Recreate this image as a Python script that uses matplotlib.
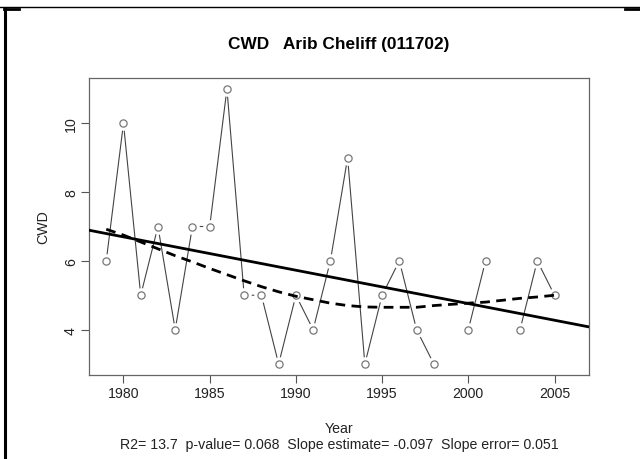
import numpy as np
import matplotlib
matplotlib.use("Agg")
import matplotlib.pyplot as plt
from matplotlib.lines import Line2D

plt.rcParams['font.family'] = ['Liberation Sans', 'DejaVu Sans']

# Annual CWD series (NaN = missing year)
years = np.arange(1979, 2006)
cwd = [6, 10, 5, 7, 4, 7, 7, 11, 5, 5, 3, 5, 4, 6, 9, 3, 5, 6, 4, 3,
       np.nan, 4, 6, np.nan, 4, 6, 5]
# Smoothed curve evaluated at observed years
smooth_years = [1979, 1980, 1981, 1982, 1983, 1984, 1985, 1986, 1987, 1988, 1989,
                1990, 1991, 1992, 1993, 1994, 1995, 1996, 1997, 1998, 2000, 2001,
                2003, 2004, 2005]
smooth_vals = [6.92, 6.75, 6.55, 6.35, 6.15, 5.97, 5.78, 5.6, 5.42, 5.25, 5.1,
               4.97, 4.87, 4.77, 4.7, 4.66, 4.65, 4.65, 4.65, 4.7, 4.77, 4.8,
               4.91, 4.95, 5.0]
slope = -0.097
r2, pval, slope_err = 13.7, 0.068, 0.051
station = "Arib Cheliff (011702)"

x_ticks = [1980, 1985, 1990, 1995, 2000, 2005]
y_ticks = [4, 6, 8, 10]

cwd = np.array(cwd, dtype=float)
ok = ~np.isnan(cwd)
# trend line through the mean of observed data
intercept = cwd[ok].mean() - slope * years[ok].mean()

W, H = 640, 460
fig = plt.figure(figsize=(6.4, 4.6), dpi=100)
ax = fig.add_axes([89 / W, 1 - 376 / H, 500 / W, 297 / H])

ax.plot(years, cwd, color='#444444', lw=0.8, zorder=1)
# white halo so the connecting lines stop short of the points
ax.plot(years[ok], cwd[ok], 'o', ms=10.5, mfc='white', mec='none', zorder=2)
ax.plot(years[ok], cwd[ok], 'o', ms=5.2, mfc='white', mec='#777777', mew=0.9, zorder=3)

xl = np.array([1978, 2007])
ax.plot(xl, intercept + slope * xl, color='black', lw=2, zorder=4)
ax.plot(smooth_years, smooth_vals, color='black', lw=2, ls=(0, (3.5, 2.3)), zorder=4)

fs = 10.2
ax.set_xlim(1978, 2007)
ax.set_ylim(2.68, 11.32)
ax.set_xticks(x_ticks)
ax.set_yticks(y_ticks)
ax.set_yticklabels([str(v) for v in y_ticks], rotation=90, va='center')
ax.tick_params(direction='out', length=5.5, width=0.8, colors='#555555',
               labelcolor='#222222', labelsize=fs, pad=2.5)
for s in ax.spines.values():
    s.set_color('#666666')
    s.set_linewidth(0.9)

cx = (89 + 589) / 2 / W
fig.text(cx, 1 - 45 / H, 'CWD   ' + station, fontsize=12.4, fontweight='bold',
         ha='center', va='center')
fig.text(43 / W, 1 - 227.5 / H, 'CWD', fontsize=fs, color='#222222', rotation=90,
         ha='center', va='center')
fig.text(cx, 1 - 429 / H, 'Year', fontsize=fs, color='#222222', ha='center', va='center')
fig.text(cx, 1 - 445 / H,
         'R2= %.1f  p-value= %.3f  Slope estimate= %.3f  Slope error= %.3f'
         % (r2, pval, slope, slope_err),
         fontsize=fs, color='#222222', ha='center', va='center')

# cell border around the figure
def px_line(x, y, lw):
    fig.add_artist(Line2D(np.array(x) / W, 1 - np.array(y) / H, color='black',
                          lw=lw, transform=fig.transFigure))
px_line([0, 640], [8, 8], 1.0)
px_line([5, 5], [9, 460], 2.2)
px_line([4, 19], [9.5, 9.5], 2.0)
px_line([625, 640], [9.5, 9.5], 2.0)

fig.savefig('out.png', dpi=100)
